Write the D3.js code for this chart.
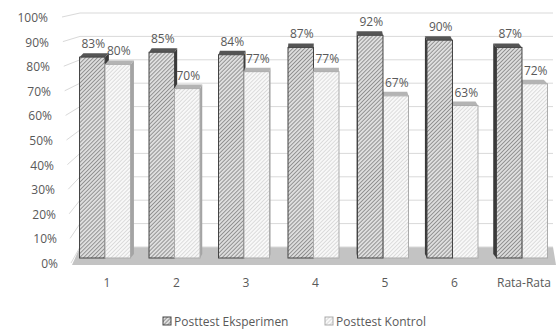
<!doctype html>
<html>
<head>
<meta charset="utf-8">
<script src="https://d3js.org/d3.v7.min.js"></script>
<style>
  body { margin: 0; background: #fff; }
  text { font-family: "Open Sans", sans-serif; fill: #595959; }
</style>
</head>
<body>
<svg width="556" height="331"></svg>
<script>
// data
var categories = ["1", "2", "3", "4", "5", "6", "Rata-Rata"];
var series = ["Posttest Eksperimen", "Posttest Kontrol"];
var eksperimen = [0.83, 0.85, 0.84, 0.87, 0.92, 0.90, 0.87];
var kontrol = [0.80, 0.70, 0.77, 0.77, 0.67, 0.63, 0.72];
var yTicks = [0, 0.1, 0.2, 0.3, 0.4, 0.5, 0.6, 0.7, 0.8, 0.9, 1];

var svg = d3.select("svg");

// hatch patterns for the two series
var defs = svg.append("defs");
function hatch(id, bg, line, w) {
  var p = defs.append("pattern")
    .attr("id", id)
    .attr("patternUnits", "userSpaceOnUse")
    .attr("width", 2.8).attr("height", 2.8)
    .attr("patternTransform", "rotate(45)");
  p.append("rect").attr("width", 2.8).attr("height", 2.8).attr("fill", bg);
  p.append("line").attr("x1", 0).attr("y1", 0).attr("x2", 0).attr("y2", 2.8)
    .attr("stroke", line).attr("stroke-width", w);
}
hatch("hEks", "#dedede", "#585858", 1.1);
hatch("hKon", "#f8f8f8", "#c6c6c6", 1.1);

// three depth planes: front (axis labels), middle (bars), back (wall grid)
var yFront = d3.scaleLinear().domain([0, 1]).range([264, 18]);
var yMid = d3.scaleLinear().domain([0, 1]).range([258, 16]);
var yBack = d3.scaleLinear().domain([0, 1]).range([247, 13]);
var wallX = 80, wallR = 553;

var x0 = d3.scaleBand().domain(categories).range([70, 557]).paddingInner(0.266).paddingOuter(0.137);
var x1 = d3.scaleBand().domain(series).range([0, x0.bandwidth()]);

// floor
svg.append("path")
  .attr("d", "M72,265L556,265L" + wallR + "," + yBack(0) + "L" + wallX + "," + yBack(0) + "Z")
  .attr("fill", "#c3c3c3");

// wall gridlines
var grid = svg.append("g");
yTicks.forEach(function(v) {
  grid.append("path")
    .attr("d", "M" + (71 - 9 * v) + "," + (yFront(v) - 1) + "L" + wallX + "," + yBack(v) + "L" + wallR + "," + yBack(v))
    .attr("fill", "none").attr("stroke", "#d9d9d9").attr("stroke-width", 1);
});

// y labels
svg.append("g").selectAll("text").data(yTicks).join("text")
  .attr("x", function(d) { return 58 - 10 * d; })
  .attr("y", function(d) { return yFront(d) + 4; })
  .attr("text-anchor", "end")
  .style("font-size", "12px")
  .text(d3.format(".0%"));

// bars
var vx = 318, k = 0.017, depth = 4;
var bars = [];
categories.forEach(function(c, i) {
  [eksperimen[i], kontrol[i]].forEach(function(v, j) {
    var xa = x0(c) + x1(series[j]), xb = xa + x1.bandwidth();
    bars.push({c: c, s: j, v: v, xa: xa, xb: xb, dx: (vx - (xa + xb) / 2) * k});
  });
});
bars.sort(function(a, b) {
  return Math.abs(b.dx) - Math.abs(a.dx);
});

var styles = [
  {front: "url(#hEks)", stroke: "#444", top: "#555", side: "#3a3a3a"},
  {front: "url(#hKon)", stroke: "#ababab", top: "#b4b4b4", side: "#a4a4a4"}
];

var gb = svg.append("g");
bars.forEach(function(d) {
  var st = styles[d.s];
  var yt = yMid(d.v), yb = yMid(0), dx = d.dx, dy = -depth;
  var g = gb.append("g");
  var ex = dx > 0 ? d.xb : d.xa;
  g.append("path")
    .attr("d", "M" + ex + "," + yt + "L" + (ex + dx) + "," + (yt + dy) + "L" + (ex + dx) + "," + (yb + dy) + "L" + ex + "," + yb + "Z")
    .attr("fill", st.side);
  g.append("path")
    .attr("d", "M" + d.xa + "," + yt + "L" + d.xb + "," + yt + "L" + (d.xb + dx) + "," + (yt + dy) + "L" + (d.xa + dx) + "," + (yt + dy) + "Z")
    .attr("fill", st.top);
  g.append("rect")
    .attr("x", d.xa).attr("y", yt)
    .attr("width", d.xb - d.xa).attr("height", yb - yt)
    .attr("fill", st.front).attr("stroke", st.stroke).attr("stroke-width", 1);
});

// value labels
svg.append("g").selectAll("text").data(bars).join("text")
  .attr("x", function(d) { return (d.xa + d.xb) / 2 + 1; })
  .attr("y", function(d) { return yMid(d.v) - 9; })
  .attr("text-anchor", "middle")
  .style("font-size", "12px")
  .text(function(d) { return d3.format(".0%")(d.v); });

// category labels
svg.append("g").selectAll("text").data(categories).join("text")
  .attr("x", function(d) { return x0(d) + x0.bandwidth() / 2 + 2; })
  .attr("y", 287)
  .attr("text-anchor", "middle")
  .style("font-size", "12px")
  .text(function(d) { return d; });

// legend
var legX = [163, 325];
var leg = svg.append("g").selectAll("g").data(series).join("g")
  .attr("transform", function(d, i) { return "translate(" + legX[i] + ",317)"; });
leg.append("rect").attr("width", 8).attr("height", 8)
  .attr("fill", function(d, i) { return styles[i].front; })
  .attr("stroke", function(d, i) { return styles[i].stroke; });
leg.append("text").attr("x", 11).attr("y", 9)
  .style("font-size", "12px")
  .text(function(d) { return d; });
</script>
</body>
</html>
